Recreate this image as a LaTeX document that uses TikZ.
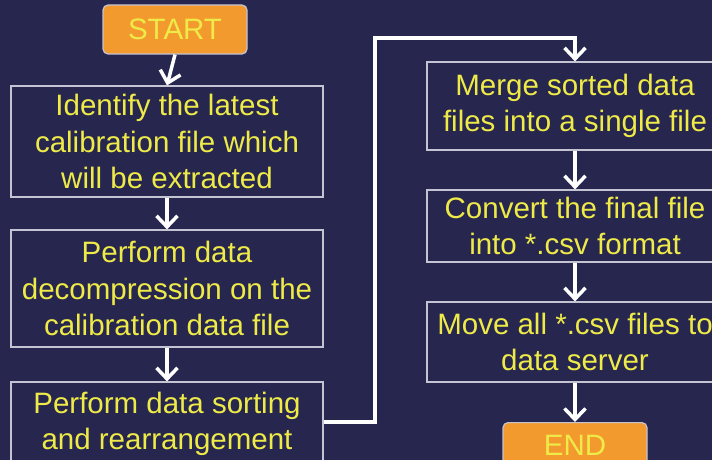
\documentclass[tikz,border=0pt]{standalone}
\usepackage{fontspec}
\setmainfont{Liberation Sans}
\usetikzlibrary{arrows.meta}
\definecolor{bgnavy}{HTML}{26264F}
\definecolor{txtyellow}{HTML}{EEEA48}
\definecolor{boxorange}{HTML}{F39A2F}
\definecolor{boxline}{HTML}{C4C4D2}
\tikzset{
  stepbox/.style={draw=boxline, line width=1.2pt, rectangle, align=center,
    text=txtyellow, font=\fontsize{29.5}{36.5}\selectfont, inner sep=0pt},
  termbox/.style={draw=boxline, line width=1.2pt, fill=boxorange, rectangle,
    rounded corners=5pt, align=center, text=txtyellow,
    font=\fontsize{29.5}{36.5}\selectfont, inner sep=0pt,
    minimum width=144pt, minimum height=49pt},
  arr/.style={draw=white, line width=3.5pt,
    -{Straight Barb[length=11pt,width=21pt,line width=3.5pt]}},
}
\begin{document}
\begin{tikzpicture}[x=1pt,y=-1pt]
\useasboundingbox (0,0) rectangle (712,460);
\fill[bgnavy] (0,0) rectangle (712,460);
\clip (0,0) rectangle (712,460);
% nodes
\node[termbox] (start) at (175,29.5) {START};
\node[stepbox, minimum width=312pt, minimum height=111pt] (b1) at (167,141.5)
  {Identify the latest\\calibration file which\\will be extracted};
\node[stepbox, minimum width=312pt, minimum height=117pt] (b2) at (167,288.5)
  {Perform data\\decompression on the\\calibration data file};
\node[stepbox, minimum width=312pt, minimum height=84pt] (b3) at (167,424)
  {Perform data sorting\\and rearrangement};
\node[stepbox, minimum width=296pt, minimum height=88pt] (b4) at (575,106)
  {Merge sorted data\\files into a single file};
\node[stepbox, minimum width=296pt, minimum height=72pt] (b5) at (575,226)
  {Convert the final file\\into *.csv format};
\node[stepbox, minimum width=296pt, minimum height=80pt] (b6) at (575,342)
  {Move all *.csv files to\\data server};
\node[termbox, anchor=north] (end) at (575,422) {\raisebox{4pt}{END}};
\coordinate (turn) at (375,38);
% connectors
\draw[arr] (start.south) -- (b1.north);
\draw[arr] (b1) -- (b2);
\draw[arr] (b2) -- (b3);
\draw[arr] (b3.east |- 0,422) -| (turn) -| (b4.north);
\draw[arr] (b4) -- (b5);
\draw[arr] (b5) -- (b6);
\draw[arr] (b6) -- (end);
\end{tikzpicture}
\end{document}
